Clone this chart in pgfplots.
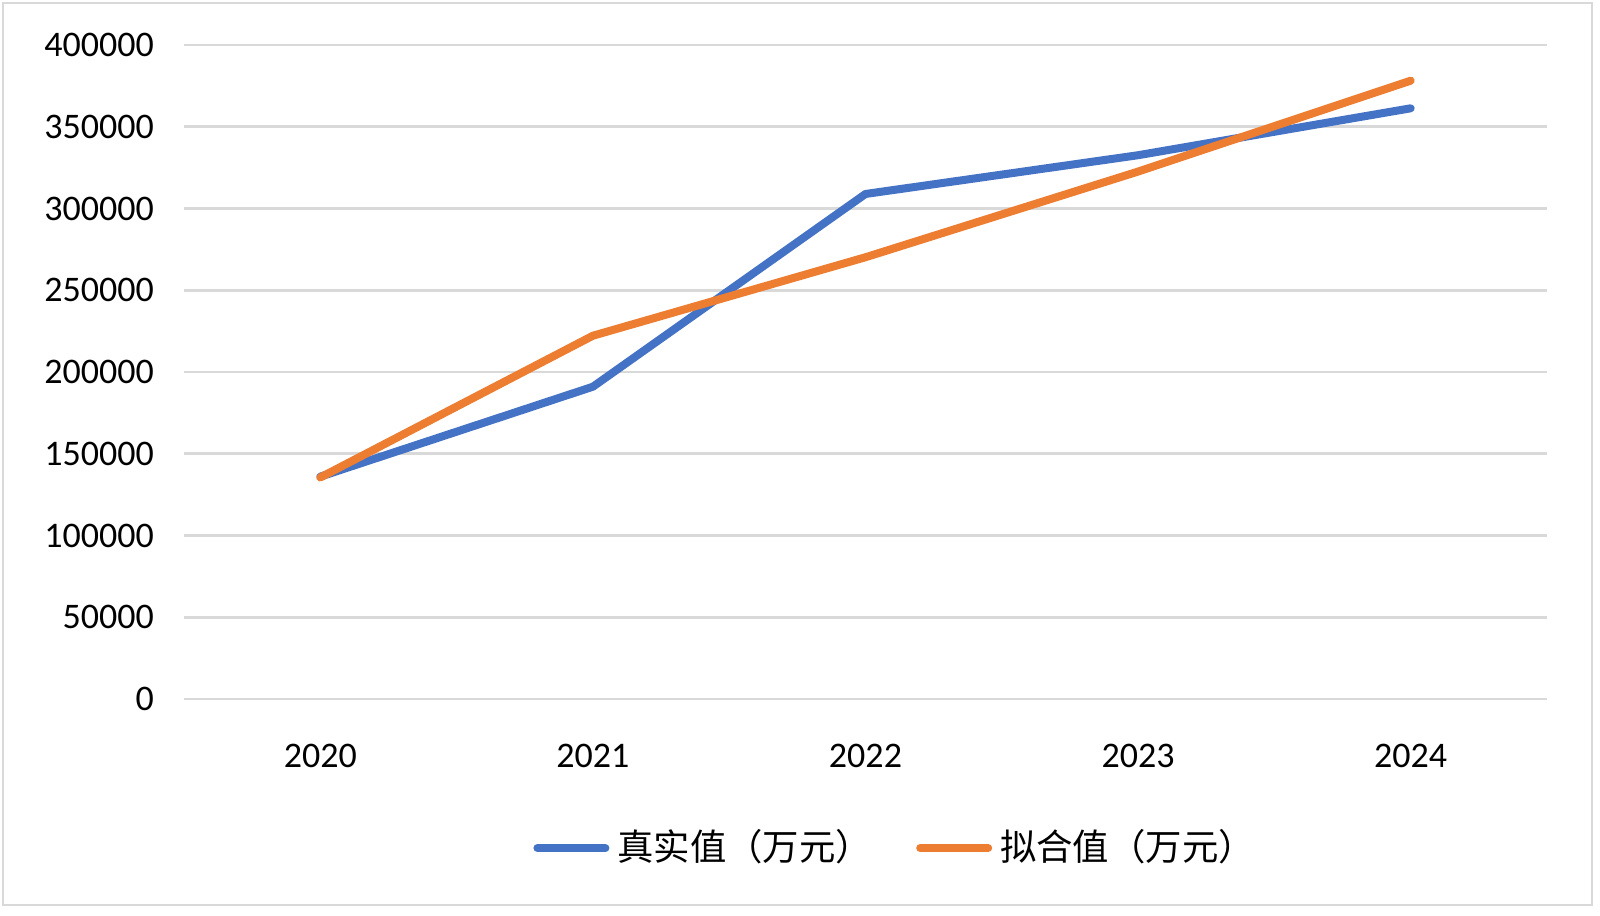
\documentclass[border=0pt]{standalone}
\usepackage{pgfplots}
\pgfplotsset{compat=1.18}
\usepackage{fontspec}
\setmainfont{Carlito}
\newfontfamily\cjk{Noto Sans CJK SC}
\definecolor{cblue}{RGB}{68,114,196}
\definecolor{corange}{RGB}{237,125,49}
\definecolor{cgrid}{RGB}{217,217,217}
\begin{document}
\begin{tikzpicture}
\path[use as bounding box] (0pt,0pt) rectangle (400pt,228.75pt);
\draw[color=cgrid, line width=0.6pt] (0.75pt,2.5pt) rectangle (398pt,228pt);
\begin{axis}[
  at={(46pt,54pt)}, anchor=south west,
  scale only axis, width=340.75pt, height=163.5pt,
  xmin=-0.5, xmax=4.5, ymin=0, ymax=400000,
  xtick={0,1,2,3,4}, xticklabels={2020,2021,2022,2023,2024},
  ytick={0,50000,...,400000},
  axis line style={draw=none},
  tick style={draw=none},
  ymajorgrids, grid style={color=cgrid, line width=0.7pt},
  scaled y ticks=false,
  /pgf/number format/assume math mode=true,
  yticklabel={\pgfmathprintnumber[fixed,precision=0,1000 sep={}]{\tick}},
  ticklabel style={font=\fontsize{9}{10}\selectfont},
  yticklabel style={xshift=-4pt},
  xticklabel style={yshift=-7.8pt},
  legend columns=2,
  legend style={at={(0.524,-0.228)}, anchor=center, draw=none, fill=none,
    font=\cjk\fontsize{9.1}{10}\selectfont,
    /tikz/every even column/.append style={column sep=9pt}},
  legend image code/.code={\draw[#1, line cap=round] (0pt,0pt) -- (17pt,0pt);},
]
\addplot[cblue, line width=2pt, line cap=round, line join=round] coordinates {
  (0,136000) (1,191000) (2,308900) (3,332600) (4,361300)};
\addlegendentry{真实值（万元）}
\addplot[corange, line width=2pt, line cap=round, line join=round] coordinates {
  (0,135500) (1,222200) (2,270200) (3,322600) (4,378200)};
\addlegendentry{拟合值（万元）}
\end{axis}
\end{tikzpicture}
\end{document}
